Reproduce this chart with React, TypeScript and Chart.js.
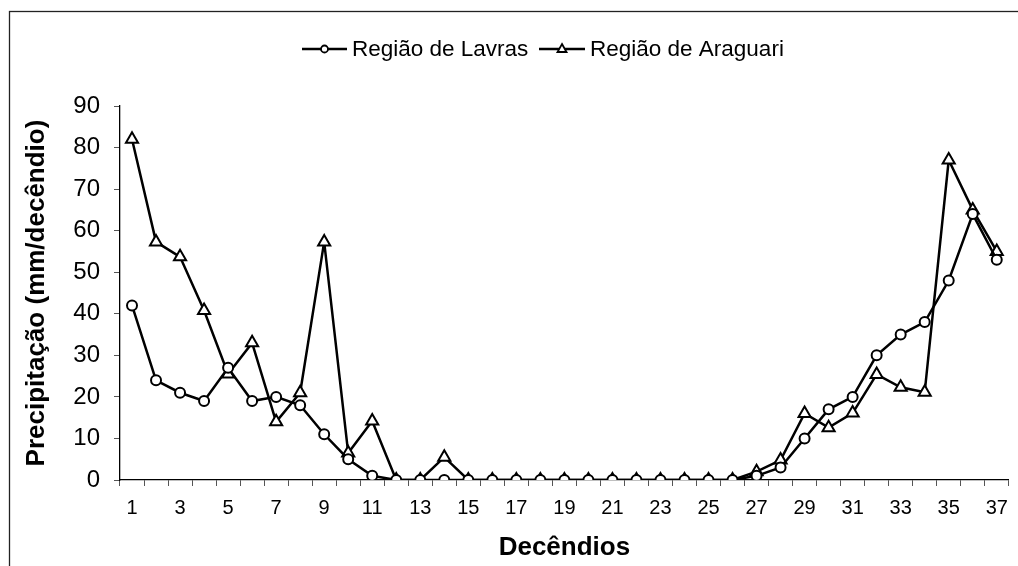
import React, { useEffect, useRef } from "react";
import { Chart, registerables } from "chart.js";

Chart.register(...registerables);

const categories: string[] = Array.from({ length: 37 }, (_, i) => String(i + 1));

const lavras: number[] = [
  42, 24, 21, 19, 27, 19, 20, 18, 11, 5, 1, 0, 0, 0, 0, 0, 0, 0, 0, 0, 0, 0, 0, 0, 0, 0,
  1, 3, 10, 17, 20, 30, 35, 38, 48, 64, 53,
];

const araguari: number[] = [
  82, 57.3, 53.7, 40.8, 25.5, 33, 14, 21, 57.3, 6.5, 14.2, 0, 0, 5.5, 0, 0, 0, 0, 0, 0, 0, 0,
  0, 0, 0, 0, 2, 4.8, 16, 12.6, 16.1, 25.4, 22.3, 21.1, 77, 65, 55,
];

const yTicks: number[] = [0, 10, 20, 30, 40, 50, 60, 70, 80, 90];

const seriesNames: string[] = ["Região de Lavras", "Região de Araguari"];
const xTitle = "Decêndios";
const yTitle = "Precipitação (mm/decêndio)";

const FONT = "'Liberation Sans', Arial, sans-serif";

const decorPlugin = {
  id: "decor",
  afterDraw(chart: any) {
    const ctx = chart.ctx as CanvasRenderingContext2D;
    const area = chart.chartArea;
    ctx.save();
    // outer frame
    ctx.strokeStyle = "#222";
    ctx.lineWidth = 1.3;
    ctx.strokeRect(9.5, 11.5, 3000, 3000);

    // axis titles
    ctx.fillStyle = "#000";
    ctx.font = `bold 26px ${FONT}`;
    ctx.textAlign = "center";
    ctx.textBaseline = "middle";
    ctx.fillText(xTitle, (area.left + area.right) / 2, 548);
    ctx.save();
    ctx.translate(37, (area.top + area.bottom) / 2);
    ctx.rotate(-Math.PI / 2);
    ctx.fillText(yTitle, 0, 0);
    ctx.restore();

    // legend
    const ly = 49;
    const items = [
      { x0: 302, x1: 347, tx: 352, style: "circle" },
      { x0: 539, x1: 585, tx: 590, style: "triangle" },
    ];
    items.forEach((it, i) => {
      ctx.strokeStyle = "#000";
      ctx.lineWidth = 2.5;
      ctx.beginPath();
      ctx.moveTo(it.x0, ly);
      ctx.lineTo(it.x1, ly);
      ctx.stroke();
      const cx = (it.x0 + it.x1) / 2;
      ctx.fillStyle = "#fff";
      ctx.lineWidth = 1.8;
      ctx.beginPath();
      if (it.style === "circle") {
        ctx.arc(cx, ly, 3.5, 0, Math.PI * 2);
      } else {
        const r = 5;
        ctx.moveTo(cx, ly - r);
        ctx.lineTo(cx + r * 0.9, ly + r * 0.6);
        ctx.lineTo(cx - r * 0.9, ly + r * 0.6);
        ctx.closePath();
      }
      ctx.fill();
      ctx.stroke();
      ctx.fillStyle = "#000";
      ctx.font = `22.5px ${FONT}`;
      ctx.textAlign = "left";
      ctx.textBaseline = "middle";
      ctx.fillText(seriesNames[i], it.tx, ly + 1);
    });
    ctx.restore();
  },
};

export default function App() {
  const ref = useRef<HTMLCanvasElement | null>(null);

  useEffect(() => {
    if (!ref.current) return;
    const chart = new Chart(ref.current, {
      type: "line",
      data: {
        labels: categories,
        datasets: [
          {
            label: seriesNames[0],
            data: lavras,
            borderColor: "#000",
            borderWidth: 2.5,
            backgroundColor: "#fff",
            pointStyle: "circle",
            pointRadius: 5,
            pointBorderWidth: 2,
            pointBackgroundColor: "#fff",
            pointBorderColor: "#000",
            tension: 0,
          },
          {
            label: seriesNames[1],
            data: araguari,
            borderColor: "#000",
            borderWidth: 2.5,
            backgroundColor: "#fff",
            pointStyle: "triangle",
            pointRadius: 7,
            pointBorderWidth: 2,
            pointBackgroundColor: "#fff",
            pointBorderColor: "#000",
            tension: 0,
          },
        ],
      },
      options: {
        responsive: false,
        animation: false,
        devicePixelRatio: 1,
        layout: { padding: { top: 106, right: 7, left: 0, bottom: 0 } },
        plugins: {
          legend: { display: false },
          tooltip: { enabled: false },
        },
        scales: {
          x: {
            type: "category",
            offset: true,
            grid: {
              offset: true,
              drawOnChartArea: false,
              drawTicks: true,
              tickLength: 6,
              color: "#555",
            },
            border: { color: "#000", width: 1.3 },
            ticks: {
              autoSkip: false,
              maxRotation: 0,
              padding: 10,
              color: "#000",
              font: { family: FONT, size: 20 },
              callback: (_v: any, i: number) => (i % 2 === 0 ? categories[i] : ""),
            },
            afterFit: (s: any) => {
              s.height = 86;
            },
          },
          y: {
            min: 0,
            max: 90,
            afterBuildTicks: (s: any) => {
              s.ticks = yTicks.map((v) => ({ value: v }));
            },
            grid: {
              drawOnChartArea: false,
              drawTicks: true,
              tickLength: 6,
              color: "#555",
            },
            border: { color: "#000", width: 1.3 },
            ticks: {
              padding: 14,
              color: "#000",
              font: { family: FONT, size: 24 },
            },
            afterFit: (s: any) => {
              s.width = 120;
            },
          },
        },
      },
      plugins: [decorPlugin],
    });
    return () => chart.destroy();
  }, []);

  return (
    <div style={{ position: "fixed", left: 0, top: 0, width: 1018, height: 566, background: "#fff" }}>
      <canvas ref={ref} width={1018} height={566} style={{ display: "block" }} />
    </div>
  );
}
